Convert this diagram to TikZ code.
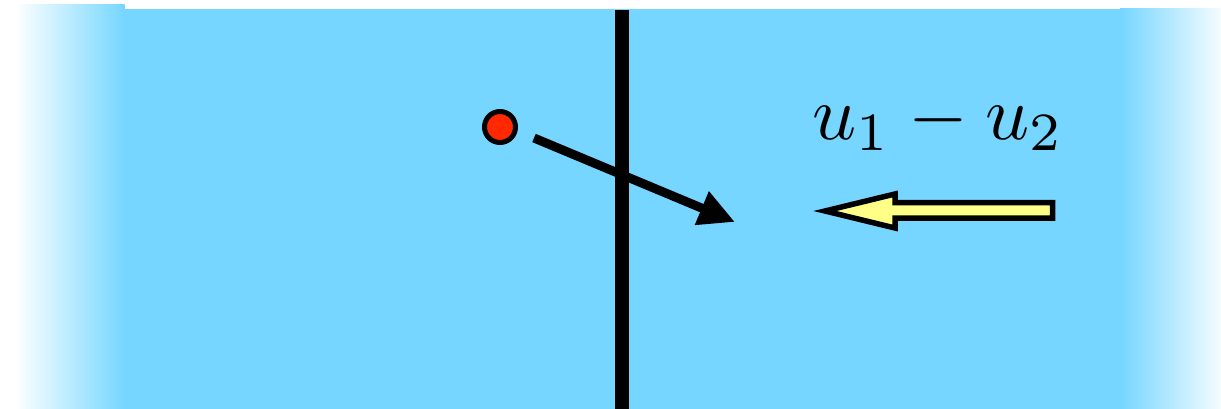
\documentclass[tikz,border=0pt]{standalone}
\usetikzlibrary{arrows.meta}
\definecolor{skyb}{RGB}{118,214,255}
\definecolor{dotred}{RGB}{255,40,0}
\definecolor{arrowyellow}{RGB}{255,255,136}
\tikzset{
  wall/.style={line width=14pt},
  motion/.style={line width=9pt,-{Triangle[length=36pt,width=34pt]}},
  particle/.style={circle,draw=black,line width=5pt,fill=dotred,minimum size=31pt,inner sep=0pt},
  flowarrow/.style={draw=black,fill=arrowyellow,line width=5.5pt,line join=miter},
  biglabel/.style={inner sep=0pt,font=\fontsize{10}{12}\selectfont,scale=7.7}
}
\begin{document}
\begin{tikzpicture}[x=1pt,y=-1pt]
\useasboundingbox (0,0) rectangle (1221,409);
% background band
\shade[left color=white,right color=skyb] (15,5) rectangle (124.5,409);
\fill[skyb] (124,9) rectangle (1121,409);
\shade[left color=skyb,right color=skyb!8] (1120,9) rectangle (1221,409);
% wall
\coordinate (wt) at (622,10);
\coordinate (wb) at (622,409);
\draw[wall] (wt) -- (wb);
% particle and its motion
\node[particle] (dot) at (500,127) {};
\coordinate (mstart) at (534,138);
\coordinate (mend) at (735,222);
\draw[motion] (mstart) -- (mend);
% relative velocity arrow
\coordinate (ytip) at (825,211);
\draw[flowarrow] (ytip) -- (895,194) -- (895,202.5) -- (1052.5,202.5) -- (1052.5,218) -- (895,218) -- (895,228) -- cycle;
% label
\node[biglabel,anchor=base west] (lab) at (811,139) {$u_1 - u_2$};
\end{tikzpicture}
\end{document}
